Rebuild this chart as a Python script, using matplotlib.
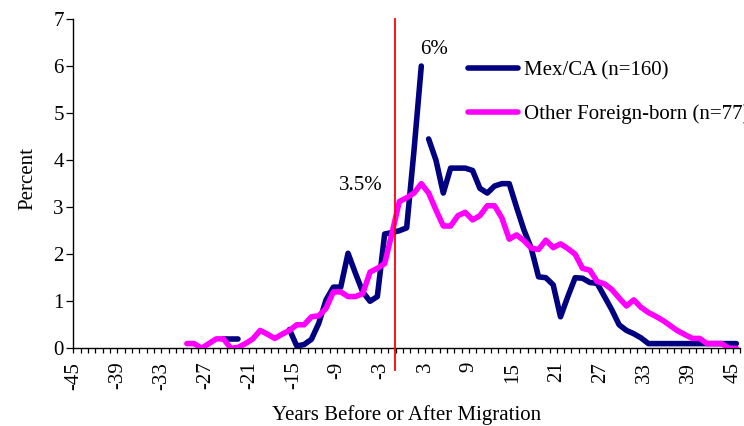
import numpy as np
import matplotlib
matplotlib.use("Agg")
import matplotlib.pyplot as plt
from matplotlib.transforms import ScaledTranslation

plt.rcParams['font.family'] = ['Liberation Serif', 'DejaVu Serif']

# ---------------- data ----------------
years = list(range(-45, 46))
tick_years = list(range(-45, 46, 6))
tick_labels = ["-45", "-39", "-33", "-27", "-21", "-15", "-9", "-3",
               "3", "9", "15", "21", "27", "33", "39", "45"]
y_ticks = [0, 1, 2, 3, 4, 5, 6, 7]

# Other foreign-born, years -30 .. 45
other_start = -30
other_vals = [0.1, 0.1, 0.0, 0.1, 0.2, 0.2, 0.0, 0.02, 0.1, 0.2,
              0.38, 0.3, 0.21, 0.3, 0.38, 0.5, 0.5, 0.67, 0.69, 0.85,
              1.2, 1.2, 1.1, 1.1, 1.16, 1.62, 1.7, 1.8, 2.45, 3.12,
              3.2, 3.3, 3.5, 3.3, 2.94, 2.6, 2.6, 2.82, 2.89, 2.73,
              2.82, 3.03, 3.03, 2.77, 2.32, 2.41, 2.29, 2.13, 2.1, 2.3,
              2.14, 2.22, 2.12, 2.0, 1.7, 1.66, 1.42, 1.37, 1.25, 1.07,
              0.9, 1.03, 0.87, 0.76, 0.68, 0.59, 0.48, 0.37, 0.29, 0.21,
              0.21, 0.1, 0.1, 0.1, 0.0, 0.0]

# Mex/CA, drawn in three pieces (gaps in the original)
mex_a_start = -25
mex_a = [0.2, 0.2, 0.2]
mex_b_start = -16
mex_b = [0.4, 0.05, 0.08, 0.19, 0.53, 1.03, 1.3, 1.3, 2.02, 1.6,
         1.2, 1.0, 1.1, 2.43, 2.46, 2.5, 2.56, 4.2, 6.0]
mex_c_start = 3
mex_c = [4.45, 4.0, 3.3, 3.83, 3.83, 3.83, 3.78, 3.4, 3.3, 3.45,
         3.5, 3.5, 3.0, 2.52, 2.13, 1.52, 1.5, 1.35, 0.67, 1.1,
         1.5, 1.49, 1.4, 1.38, 1.1, 0.82, 0.5, 0.38, 0.31, 0.22,
         0.1, 0.1, 0.1, 0.1, 0.1, 0.1, 0.1, 0.1, 0.1, 0.1,
         0.1, 0.1, 0.1]

migration_line_x = -1.57
series_labels = ["Mex/CA (n=160)", "Other Foreign-born (n=77)"]
navy = "#000080"
magenta = "#FF00FF"

# ---------------- figure ----------------
W, H = 744, 426
fig = plt.figure(figsize=(W / 100, H / 100), dpi=100)
ax_l, ax_r, ax_t, ax_b = 73.3, 740.0, 19.0, 348.3
ax = fig.add_axes([ax_l / W, (H - ax_b) / H, (ax_r - ax_l) / W, (ax_b - ax_t) / H])

fs = 15
lw = 4.0
line_kw = dict(lw=lw, solid_capstyle='round', solid_joinstyle='round')

def seg(start, vals):
    return np.arange(start, start + len(vals)), np.array(vals, dtype=float)

for s, v in [(mex_a_start, mex_a), (mex_b_start, mex_b), (mex_c_start, mex_c)]:
    x, y = seg(s, v)
    ax.plot(x, y, color=navy, zorder=3, **line_kw)

xo, yo = seg(other_start, other_vals)
ax.plot(xo, yo, color=magenta, zorder=4, **line_kw)

# vertical migration line (extends a little below the axis)
ax.plot([migration_line_x, migration_line_x], [-0.46, 7], color="#FF0000",
        lw=1.3, zorder=5, clip_on=False)

# annotations
ax.text(-6.2, 3.46, "3.5%", fontsize=fs, ha='center', va='center')
ax.text(3.7, 6.36, "6%", fontsize=fs, ha='center', va='center')

# axes
ax.set_xlim(-45.5, 45.5)
ax.set_ylim(0, 7)
for sp in ['top', 'right']:
    ax.spines[sp].set_visible(False)
for sp in ['left', 'bottom']:
    ax.spines[sp].set_linewidth(1.0)
    ax.spines[sp].set_color('black')

ax.set_yticks(y_ticks)
ax.set_yticklabels([str(t) for t in y_ticks], fontsize=fs)
ax.tick_params(axis='y', direction='out', length=4.7, width=0.9, pad=2.2)

ax.set_xticks(tick_years)
ax.set_xticklabels(tick_labels, rotation=90, fontsize=fs)
ax.set_xticks(np.arange(-45.5, 45.6, 1.0), minor=True)
ax.tick_params(axis='x', which='major', length=0, pad=9.6)
ax.tick_params(axis='x', which='minor', direction='out', length=3.6, width=0.9)
shift = ScaledTranslation(-3.5 / 100, 0, fig.dpi_scale_trans)
for lbl in ax.get_xticklabels():
    lbl.set_transform(lbl.get_transform() + shift)

fig.text(27.5 / W, 1 - 178 / H, "Percent", rotation=90, ha='center', va='center', fontsize=fs)
fig.text(406.7 / W, 1 - 415 / H, "Years Before or After Migration", ha='center', va='center', fontsize=fs)

# legend (manual, clipped at the figure edge like the original)
def px2ax(px, py):
    return (px - ax_l) / (ax_r - ax_l), (ax_b - py) / (ax_b - ax_t)

for lab, col, py in [(series_labels[0], navy, 68.3), (series_labels[1], magenta, 111.7)]:
    x0, yy = px2ax(468.3, py)
    x1, _ = px2ax(518.3, py)
    ax.plot([x0, x1], [yy, yy], color=col, transform=ax.transAxes, clip_on=False, **line_kw)
    tx, ty = px2ax(524, py + 2.5)
    ax.text(tx, ty, lab, transform=ax.transAxes, fontsize=fs, ha='left', va='center', clip_on=False)

fig.savefig("out.png", dpi=100)
